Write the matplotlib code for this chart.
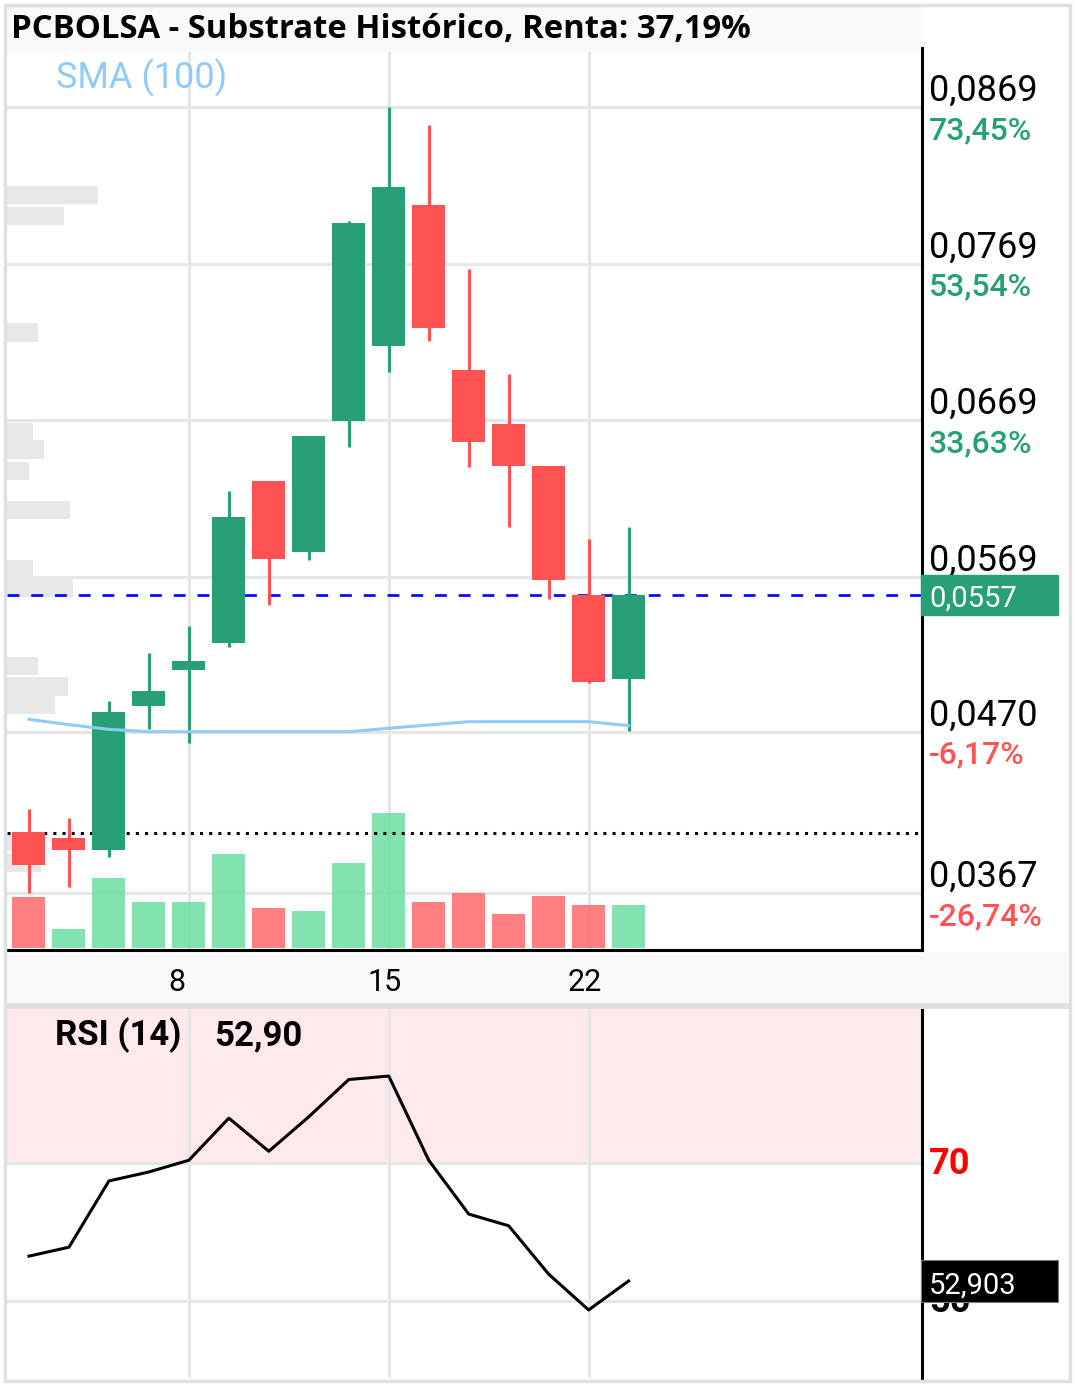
import numpy as np
import matplotlib.pyplot as plt
from matplotlib import transforms
from matplotlib.patches import Rectangle

# datos del grafico
dias = [2, 3, 4, 5, 8, 9, 10, 11, 12, 15, 16, 17, 18, 19, 22, 23]
apertura = [0.04059, 0.04021, 0.03946, 0.04866, 0.05096, 0.05269, 0.06301, 0.05846,
            0.06686, 0.07165, 0.08064, 0.07010, 0.06665, 0.06397, 0.05573, 0.05039]
maximo = [0.04204, 0.04147, 0.04894, 0.05201, 0.05373, 0.06237, 0.06301, 0.06589,
          0.07960, 0.08690, 0.08573, 0.07653, 0.06983, 0.06397, 0.05929, 0.06006]
minimo = [0.03668, 0.03706, 0.03898, 0.04719, 0.04626, 0.05239, 0.05507, 0.05795,
          0.06520, 0.06999, 0.07194, 0.06389, 0.06006, 0.05546, 0.05009, 0.04705]
cierre = [0.03849, 0.03946, 0.04826, 0.04960, 0.05152, 0.06071, 0.05805, 0.06589,
          0.07949, 0.08179, 0.07280, 0.06552, 0.06399, 0.05671, 0.05019, 0.05570]
volumen = [51, 19, 70, 46, 46, 94, 40, 37, 85, 135, 46, 55, 34, 52, 43, 43]
sma100 = [0.04779, 0.04745, 0.04715, 0.04700, 0.04700, 0.04700, 0.04700, 0.04700,
          0.04700, 0.04722, 0.04743, 0.04764, 0.04764, 0.04764, 0.04764, 0.04739]
rsi = [56.5, 57.8, 67.4, 68.7, 70.4, 76.5, 71.7, 76.7, 82.1, 82.6, 70.4, 62.6,
       60.9, 53.9, 48.7, 52.9]

# perfil de volumen (niveles de precio y volumen)
perfil_precio = [0.08129, 0.07995, 0.07249, 0.06615, 0.06502, 0.06366, 0.06118,
                 0.05736, 0.05619, 0.05121, 0.04989, 0.04872, 0.03996, 0.03862]
perfil_vol = [91, 57, 31, 26, 37, 22, 63, 26, 66, 31, 61, 48, 30, 34]

precio_ticks = [0.0869, 0.0769, 0.0669, 0.0569, 0.0470, 0.0367]
precio_labels = ['0,0869', '0,0769', '0,0669', '0,0569', '0,0470', '0,0367']
pct_labels = ['73,45%', '53,54%', '33,63%', '', '-6,17%', '-26,74%']
precio_actual = 0.0557
precio_ref = 0.0405
rsi_ticks = [70, 50]
rsi_actual = 52.903

VERDE = '#26a074'
ROJO = '#ff5252'

W, H = 1076, 1385
fig = plt.figure(figsize=(W / 100, H / 100), dpi=100)
fig.patch.set_facecolor('white')


def fx(px):
    return px / W


def fy(py):
    return 1 - py / H


ax = fig.add_axes([fx(7), fy(950), fx(922) - fx(7), fy(48) - fy(950)])
ax_rsi = fig.add_axes([fx(7), fy(1378), fx(922) - fx(7), fy(1009) - fy(1378)])

x = np.arange(len(dias))
o = np.array(apertura)
c = np.array(cierre)
sube = c >= o
semanas = [i for i, d in enumerate(dias) if d in (8, 15, 22)]

# ---- panel de precio ----
ax.set_xlim(-0.55, 22.34)
ax.set_ylim(0.033058, 0.090668)
ax.set_xticks(semanas)
ax.set_yticks(precio_ticks)
ax.grid(color='#e6e6e6', lw=2.2)
ax.set_axisbelow(True)
ax.tick_params(length=0, labelleft=False, labelbottom=False)
for s in ['left', 'top']:
    ax.spines[s].set_visible(False)
for s in ['right', 'bottom']:
    ax.spines[s].set_linewidth(2.2)
    ax.spines[s].set_color('black')

# perfil de volumen a la izquierda
t_perfil = transforms.blended_transform_factory(ax.transAxes, ax.transData)
ax.barh(perfil_precio, np.array(perfil_vol) / 915, height=0.00117, left=0,
        color='#e8e8e8', transform=t_perfil, zorder=1)

# volumen abajo (color segun cierre anterior)
prev = np.r_[o[0], c[:-1]]
col_vol = ['#6cdea2' if c[i] >= prev[i] else '#ff6a6a' for i in x]
t_vol = transforms.blended_transform_factory(ax.transData, ax.transAxes)
ax.bar(x, np.array(volumen) / max(volumen) * 135 / 902, bottom=2 / 902, width=0.826,
       color=col_vol, alpha=0.85, transform=t_vol, zorder=2)

ax.axhline(precio_ref, color='black', lw=2.2, ls=(0, (1, 2)), zorder=3)
ax.axhline(precio_actual, color='#0000ff', lw=1.9, ls=(0, (4.5, 4.5)), zorder=3)

col_vela = [VERDE if s else ROJO for s in sube]
ax.vlines(x, minimo, maximo, colors=col_vela, lw=2.2, zorder=4)
ax.bar(x, np.abs(c - o), bottom=np.minimum(o, c), width=0.826, color=col_vela, zorder=5)
ax.plot(x, sma100, color='#90caf9', lw=2.2, zorder=6)

# etiquetas del eje de precio
t_der = transforms.blended_transform_factory(ax.transAxes, ax.transData)
for p, lab, pct in zip(precio_ticks, precio_labels, pct_labels):
    ax.text(1.0077, p, lab, transform=transforms.offset_copy(t_der, fig, y=6, units='dots'),
            ha='left', va='baseline', fontsize=26, family='Roboto', clip_on=False)
    if pct:
        ax.text(1.0077, p, pct, transform=transforms.offset_copy(t_der, fig, y=-32, units='dots'),
                ha='left', va='baseline', fontsize=23, family='Roboto', fontweight='medium',
                color=ROJO if pct.startswith('-') else VERDE, clip_on=False)

ax.add_patch(Rectangle((0.9989, precio_actual - 20 / 15657), 0.1497, 40 / 15657,
                       transform=t_der, color=VERDE, clip_on=False, zorder=7))
ax.text(1.0077, precio_actual, '0,0557',
        transform=transforms.offset_copy(t_der, fig, y=-11.5, units='dots'),
        ha='left', va='baseline', fontsize=21, family='Roboto', color='white',
        clip_on=False, zorder=8)

# dias abajo
t_x = transforms.blended_transform_factory(ax.transData, ax.transAxes)
for i in semanas:
    dx = -12 if dias[i] < 10 else -4
    ax.text(i, 0, str(dias[i]), transform=transforms.offset_copy(t_x, fig, x=dx, y=-41, units='dots'),
            ha='center', va='baseline', fontsize=22, family='Roboto', clip_on=False)

# ---- panel RSI ----
ax_rsi.set_xlim(-0.55, 22.34)
ax_rsi.set_ylim(38.84, 92.32)
ax_rsi.axhspan(70, 92.32, color='#ffe9ea', zorder=0)
ax_rsi.set_xticks(semanas)
ax_rsi.set_yticks(rsi_ticks)
ax_rsi.grid(color='#e6e6e6', lw=2.2)
ax_rsi.set_axisbelow(True)
ax_rsi.tick_params(length=0, labelleft=False, labelbottom=False)
for s in ['left', 'top', 'bottom']:
    ax_rsi.spines[s].set_visible(False)
ax_rsi.spines['right'].set_linewidth(2.2)
ax_rsi.plot(x, rsi, color='black', lw=2.2, zorder=3)

t_rsi = transforms.blended_transform_factory(ax_rsi.transAxes, ax_rsi.transData)
for v in rsi_ticks:
    ax_rsi.text(1.0077, v, str(v), transform=transforms.offset_copy(t_rsi, fig, y=-11, units='dots'),
                ha='left', va='baseline', fontsize=26, family='Roboto', fontweight='bold',
                color='#ff0000' if v == 70 else 'black', clip_on=False)
ax_rsi.add_patch(Rectangle((0.9989, rsi_actual - 21 / 6.9), 0.1497, 42 / 6.9,
                           transform=t_rsi, facecolor='black', edgecolor='#777777', lw=0.8,
                           clip_on=False, zorder=7))
ax_rsi.text(1.0077, rsi_actual, '52,903',
            transform=transforms.offset_copy(t_rsi, fig, y=-13, units='dots'),
            ha='left', va='baseline', fontsize=21, family='Roboto', color='white',
            clip_on=False, zorder=8)

# ---- fondos y textos de la figura ----
fig.add_artist(Rectangle((fx(7), fy(52)), fx(921) - fx(7), fy(7) - fy(52),
                         transform=fig.transFigure, color='#f9f9f9', lw=0))
fig.add_artist(Rectangle((fx(7), fy(1003)), fx(1068) - fx(7), fy(952) - fy(1003),
                         transform=fig.transFigure, color='#f9f9f9', lw=0, zorder=-1))
fig.add_artist(Rectangle((fx(5), fy(1009)), fx(1070) - fx(5), fy(1003) - fy(1009),
                         transform=fig.transFigure, color='#e0e0e0', lw=0))
fig.add_artist(Rectangle((fx(5), fy(1381)), fx(1070) - fx(5), fy(5) - fy(1381),
                         transform=fig.transFigure, fill=False, edgecolor='#e0e0e0', lw=2.5))

fig.text(fx(11), fy(38.5), 'PCBOLSA - Substrate Histórico, Renta: 37,19%',
         fontsize=23.7, family='Open Sans', fontweight='bold', va='baseline', zorder=5)
fig.text(fx(56), fy(88.5), 'SMA (100)', fontsize=26, family='Roboto', color='#90caf9',
         va='baseline', zorder=5)
fig.text(fx(55), fy(1045), 'RSI (14)', fontsize=25, family='Roboto', fontweight='bold',
         va='baseline', zorder=5)
fig.text(fx(214), fy(1045), '52,90', fontsize=25, family='Roboto', fontweight='bold',
         va='baseline', zorder=5)

fig.savefig('out.png', dpi=100)
